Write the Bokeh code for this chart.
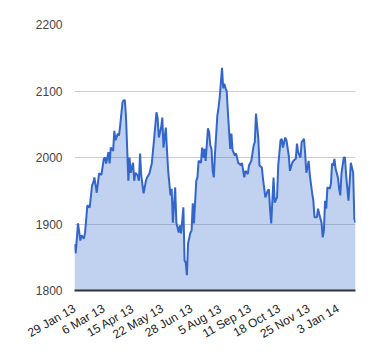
from bokeh.plotting import figure
from bokeh.models import Range1d, FixedTicker
from bokeh.embed import file_html
from bokeh.resources import INLINE
import math

# trading-day index and closing level
day_index = [0, 1, 3, 5, 6, 8, 9, 11, 13, 15, 16, 17, 19, 21, 23, 25, 26, 27, 29, 30,
             31, 33, 34, 35, 37, 38, 39, 41, 42, 43, 44, 45, 46, 47, 48, 50, 51, 52, 54, 55,
             56, 57, 59, 61, 62, 64, 66, 68, 70, 71, 72, 74, 75, 76, 78, 79, 80, 82, 83, 84,
             86, 87, 89, 90, 91, 93, 94, 95, 96, 97, 99, 100, 101, 102, 104, 105, 106, 108, 109, 110,
             111, 112, 114, 115, 116, 117, 118, 119, 120, 122, 123, 124, 126, 127, 128, 129, 130, 131, 133, 134,
             135, 137, 138, 140, 141, 142, 143, 145, 146, 148, 149, 151, 153, 154, 155, 157, 158, 160, 161, 163,
             165, 166, 167, 168, 170, 171, 173, 174, 176, 177, 178, 180, 181, 183, 184, 186, 187, 189, 190, 191,
             193, 194, 196, 197, 198, 200, 201, 203, 204, 205, 207, 208, 209, 211, 212, 213, 214, 215, 216, 218,
             219, 220, 221, 222, 223, 225, 226, 227, 228, 230, 231, 232, 234, 235, 236, 238, 239, 240]
close = [1870, 1856, 1901, 1875, 1883, 1878, 1887, 1928, 1925, 1958, 1962, 1970, 1947, 1976, 1974, 1998, 2000, 1991, 2008, 1991,
         2015, 2010, 2040, 2026, 2036, 2033, 2048, 2083, 2086, 2086, 2060, 2013, 1965, 2000, 1977, 1992, 1965, 1977, 1973, 1965,
         2006, 1973, 1946, 1965, 1970, 1976, 1991, 2028, 2068, 2059, 2030, 2045, 2060, 2015, 2045, 2011, 1980, 1943, 1953, 1902,
         1955, 1902, 1887, 1898, 1886, 1925, 1845, 1842, 1823, 1871, 1887, 1890, 1931, 1901, 1965, 1970, 1995, 1992, 2015, 2000,
         2013, 1995, 2044, 2038, 2018, 2013, 1980, 1970, 2006, 2063, 2075, 2090, 2135, 2104, 2111, 2104, 2100, 2068, 2013, 2036,
         2011, 2003, 2006, 1991, 1991, 1988, 1992, 1970, 1980, 1975, 1988, 1995, 2018, 2023, 2066, 2028, 1988, 1985, 1968, 1940,
         1950, 1952, 1923, 1901, 1970, 1932, 1940, 1988, 2026, 2028, 2015, 2030, 2026, 2003, 1980, 1992, 1995, 1998, 2021, 2008,
         2000, 2023, 2028, 2006, 1977, 1995, 1973, 1946, 1935, 1910, 1910, 1923, 1915, 1902, 1880, 1890, 1935, 1923, 1955, 1953,
         1961, 1991, 1988, 1998, 1983, 1970, 1953, 1943, 1976, 2000, 2000, 1973, 1935, 1962, 1992, 1977, 1908, 1902]

tick_index = [0, 25, 50, 75, 100, 125, 150, 175, 200, 225]
tick_labels = ["29 Jan 13", "6 Mar 13", "15 Apr 13", "22 May 13", "28 Jun 13",
               "5 Aug 13", "11 Sep 13", "18 Oct 13", "25 Nov 13", "3 Jan 14"]
y_ticks = [1800, 1900, 2000, 2100, 2200]
y_min, y_max = 1800, 2200

p = figure(width=372, height=352, output_backend="svg", toolbar_location=None,
           x_range=Range1d(0, 240), y_range=Range1d(y_min, y_max),
           min_border_left=74, min_border_right=17, min_border_top=24, min_border_bottom=62)
p.outline_line_color = None
p.background_fill_color = "white"
p.border_fill_color = "white"

p.varea(x=day_index, y1=[y_min] * len(close), y2=close, fill_color="#3366CC", fill_alpha=0.3)
p.line(x=day_index, y=close, line_color="#3366CC", line_width=2)

p.xgrid.visible = False
p.ygrid.ticker = FixedTicker(ticks=y_ticks)
p.ygrid.grid_line_color = "#cccccc"

p.yaxis.ticker = FixedTicker(ticks=y_ticks)
p.yaxis.axis_line_color = None
p.yaxis.major_tick_line_color = None
p.yaxis.minor_tick_line_color = None
p.yaxis.major_tick_out = 0
p.yaxis.major_label_standoff = 12
p.yaxis.major_label_text_font = "Liberation Sans"
p.yaxis.major_label_text_font_size = "12px"
p.yaxis.major_label_text_color = "#444444"

p.xaxis.ticker = FixedTicker(ticks=tick_index)
p.xaxis.major_label_overrides = {t: s for t, s in zip(tick_index, tick_labels)}
p.xaxis.axis_line_color = "#333333"
p.xaxis.axis_line_width = 2
p.xaxis.major_tick_line_color = None
p.xaxis.minor_tick_line_color = None
p.xaxis.major_tick_out = 0
p.xaxis.major_label_standoff = 17
p.xaxis.major_label_orientation = math.pi / 6
p.xaxis.major_label_text_font = "Liberation Sans"
p.xaxis.major_label_text_font_size = "12px"
p.xaxis.major_label_text_color = "#222222"

open("out.html", "w").write(file_html(p, INLINE))
